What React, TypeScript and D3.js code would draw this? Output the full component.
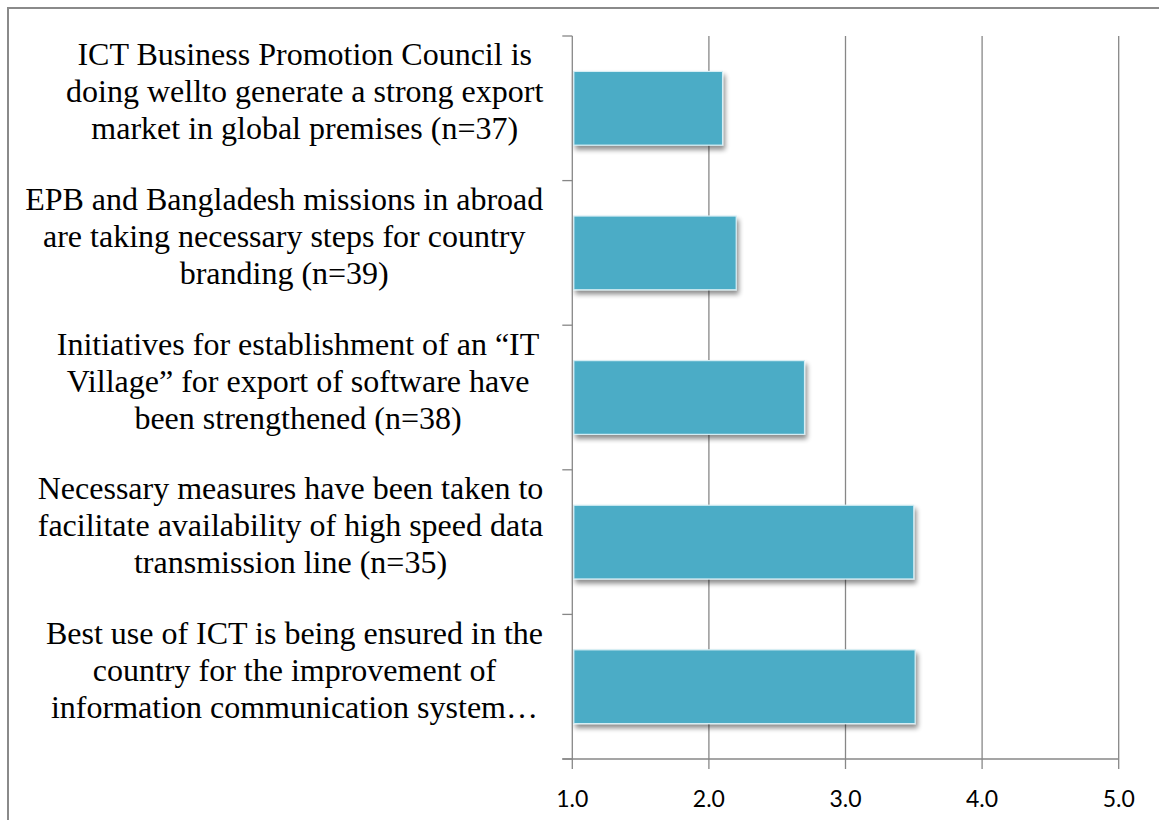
import React from "react";
import * as d3 from "d3";

const categories: string[][] = [
  ["ICT Business Promotion Council is", "doing wellto generate a strong export", "market in global premises (n=37)"],
  ["EPB and Bangladesh missions in abroad", "are taking necessary steps for country", "branding  (n=39)"],
  ["Initiatives  for establishment of an \u201cIT", "Village\u201d  for export of software have", "been strengthened (n=38)"],
  ["Necessary measures have been taken to", "facilitate availability of high speed data", "transmission line (n=35)"],
  ["Best use of ICT is being ensured in the", "country for the improvement of", "information communication system\u2026"],
];
const values: number[] = [2.1, 2.2, 2.7, 3.5, 3.51];
const xTicks: number[] = [1, 2, 3, 4, 5];

const W = 1159;
const H = 820;
const left = 572.3;
const right = 1118.7;
const top = 36;
const bottom = 759;
const labelFont = "32px 'Liberation Serif', 'Times New Roman', serif";

let ctx: CanvasRenderingContext2D | null = null;
function textWidth(s: string): number {
  if (!ctx) {
    const c = document.createElement("canvas");
    ctx = c.getContext("2d");
  }
  if (!ctx) return s.length * 13;
  ctx.font = labelFont;
  return ctx.measureText(s).width;
}

export default function App() {
  const x = d3.scaleLinear().domain([1, 5]).range([left, right]);
  const y = d3
    .scaleBand<number>()
    .domain(d3.range(categories.length))
    .range([top, bottom])
    .paddingInner(0.49)
    .paddingOuter(0.245);
  const band = d3.scaleBand<number>().domain(d3.range(categories.length)).range([top, bottom]);
  const boundaries = d3.range(categories.length + 1).map((i) => top + (i * (bottom - top)) / categories.length);
  const gridColor = "#878787";
  return (
    <svg width={W} height={H} style={{ position: "absolute", left: 0, top: 0, background: "#fff" }}>
      <defs>
        <filter id="sh" x="-10%" y="-20%" width="130%" height="150%">
          <feGaussianBlur in="SourceAlpha" stdDeviation="2.5" />
          <feOffset dx="2" dy="4" result="b" />
          <feComponentTransfer>
            <feFuncA type="linear" slope="0.45" />
          </feComponentTransfer>
          <feMerge>
            <feMergeNode />
            <feMergeNode in="SourceGraphic" />
          </feMerge>
        </filter>
      </defs>
      <rect x={0} y={0} width={W} height={H} fill="#fff" />
      <rect x={8} y={8} width={W + 20} height={H + 20} fill="none" stroke="#8a8a8a" strokeWidth={2} />
      {xTicks.slice(1).map((t) => (
        <line key={t} x1={x(t)} x2={x(t)} y1={top} y2={bottom} stroke={gridColor} strokeWidth={1.3} />
      ))}
      {values.map((v, i) => (
        <rect
          key={i}
          x={x(1) + 1.5}
          y={y(i)!}
          width={x(v) - x(1) - 1.5}
          height={y.bandwidth()}
          fill="#4BACC6"
          stroke="#d6eef4"
          strokeWidth={1.2}
          filter="url(#sh)"
        />
      ))}
      <line x1={left} x2={left} y1={top} y2={bottom} stroke={gridColor} strokeWidth={1.3} />
      {boundaries.map((b, i) => (
        <line key={i} x1={left - 10} x2={left} y1={b} y2={b} stroke={gridColor} strokeWidth={1.3} />
      ))}
      <line x1={left - 10} x2={right} y1={bottom} y2={bottom} stroke={gridColor} strokeWidth={1.3} />
      {xTicks.map((t) => (
        <g key={t}>
          <line x1={x(t)} x2={x(t)} y1={bottom} y2={bottom + 10} stroke={gridColor} strokeWidth={1.3} />
          <text
            x={x(t)}
            y={bottom + 48}
            textAnchor="middle"
            fontFamily="Lato, 'Open Sans', sans-serif"
            fontSize={23}
            fill="#000"
          >
            {d3.format(".1f")(t)}
          </text>
        </g>
      ))}
      {categories.map((lines, i) => {
        const cy = band(i)! + band.bandwidth() / 2;
        const lh = 37;
        const maxW = d3.max(lines, (l) => textWidth(l)) || 0;
        const cx = Math.min(306, left - 29 - maxW / 2);
        return (
          <text
            key={i}
            textAnchor="middle"
            fontFamily="'Liberation Serif', 'Times New Roman', serif"
            fontSize={32}
            fill="#000"
          >
            {lines.map((l, j) => (
              <tspan key={j} x={cx} y={cy + (j - 1) * lh - 6}>
                {l}
              </tspan>
            ))}
          </text>
        );
      })}
    </svg>
  );
}
